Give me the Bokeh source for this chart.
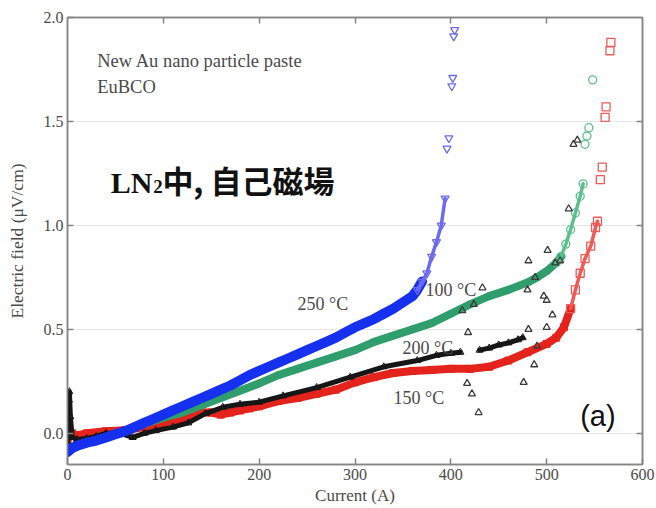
from bokeh.plotting import figure
from bokeh.models import LinearAxis, Range1d, Label, FixedTicker, PrintfTickFormatter
from bokeh.embed import file_html
from bokeh.resources import INLINE

# ---------------- data ----------------
x_ticks = [0, 100, 200, 300, 400, 500, 600]
y_ticks = [0.0, 0.5, 1.0, 1.5, 2.0]

# 250 C (blue, inverted triangles)
blue_I = [0, 5, 10, 20, 30, 40, 50, 60, 70, 80, 90, 100, 110, 120, 130, 140, 150, 160, 170, 180,
          190, 200, 210, 220, 230, 240, 250, 260, 270, 280, 290, 300, 310, 320, 330, 340, 350, 360,
          365, 370, 375, 380, 385, 390, 394, 396, 398, 401, 402, 403, 404]
blue_E = [-0.09, -0.07, -0.06, -0.045, -0.035, -0.02, -0.005, 0.01, 0.03, 0.05, 0.07, 0.09, 0.11,
          0.13, 0.15, 0.17, 0.19, 0.21, 0.23, 0.255, 0.28, 0.30, 0.32, 0.34, 0.36, 0.38, 0.40, 0.42,
          0.44, 0.46, 0.485, 0.51, 0.53, 0.55, 0.575, 0.60, 0.63, 0.66, 0.69, 0.73, 0.77, 0.85, 0.92,
          1.0, 1.13, 1.37, 1.42, 1.67, 1.71, 1.91, 1.94]

# 100 C (green, circles)
green_I = [0, 10, 20, 40, 60, 80, 100, 120, 140, 160, 180, 200, 220, 240, 260, 280, 300, 320, 340,
           360, 380, 400, 420, 440, 460, 480, 490, 500, 510, 515, 520, 525, 530, 535, 538, 540, 542,
           544, 548]
green_E = [-0.07, -0.06, -0.045, -0.02, 0.01, 0.045, 0.075, 0.10, 0.135, 0.17, 0.205, 0.24, 0.28,
           0.31, 0.34, 0.37, 0.40, 0.44, 0.47, 0.50, 0.53, 0.575, 0.62, 0.66, 0.69, 0.725, 0.75,
           0.78, 0.82, 0.85, 0.91, 0.98, 1.06, 1.14, 1.20, 1.39, 1.43, 1.47, 1.70]

# 150 C (red, squares)
red_I = [0, 5, 10, 20, 40, 60, 80, 100, 120, 140, 150, 160, 170, 180, 190, 200, 220, 240, 260, 280,
         300, 320, 340, 360, 380, 400, 420, 440, 460, 480, 500, 510, 518, 525, 530, 535, 540, 546,
         551, 553, 556, 558, 561, 562, 566, 567]
red_E = [-0.03, 0.0, -0.01, 0.0, 0.01, 0.015, 0.03, 0.05, 0.07, 0.10, 0.10, 0.09, 0.10, 0.11, 0.12,
         0.13, 0.155, 0.17, 0.19, 0.21, 0.245, 0.27, 0.29, 0.30, 0.305, 0.31, 0.31, 0.32, 0.35, 0.39,
         0.43, 0.46, 0.51, 0.60, 0.69, 0.77, 0.84, 0.90, 0.99, 1.02, 1.22, 1.28, 1.52, 1.57, 1.84, 1.88]

# 200 C (black, triangles) - main run
black_I = [0, 1, 1, 1.5, 2, 3, 5, 10, 20, 30, 40, 55, 68, 80, 92, 110, 126, 144, 162, 180, 200, 225,
           260, 295, 330, 365, 385, 400, 410]
black_E = [-0.04, 0.04, 0.10, 0.16, 0.20, 0.08, -0.02, -0.03, -0.025, -0.015, 0.0, 0.0, -0.02, 0.0,
           0.013, 0.03, 0.05, 0.095, 0.125, 0.14, 0.15, 0.18, 0.22, 0.27, 0.32, 0.35, 0.375, 0.385, 0.39]
# 200 C - second short run
black2_I = [430, 440, 450, 460, 470, 475]
black2_E = [0.40, 0.41, 0.425, 0.435, 0.45, 0.46]
# 200 C - scattered points
black3_I = [417, 422, 429, 412, 418, 424, 433, 480, 481, 487, 476, 481, 488, 490, 497, 500, 500, 501,
            506, 509, 514, 523, 528, 532]
black3_E = [0.24, 0.19, 0.10, 0.59, 0.485, 0.62, 0.70, 0.69, 0.83, 0.33, 0.245, 0.50, 0.75, 0.42,
            0.66, 0.64, 0.51, 0.88, 0.57, 0.82, 0.83, 1.08, 1.39, 1.41]

# ---------------- figure ----------------
SERIF = "Liberation Serif"
GRAY_TXT = "#4a4a4a"
AX_COL = "#858585"

p = figure(width=656, height=508, x_range=Range1d(0, 600), y_range=Range1d(-0.15, 2.0),
           output_backend="svg", toolbar_location=None,
           min_border_left=67, min_border_right=14, min_border_top=17, min_border_bottom=44)
p.background_fill_color = "white"
p.border_fill_color = "white"
p.outline_line_color = AX_COL
p.outline_line_width = 1.5
p.xgrid.visible = False
p.ygrid.ticker = FixedTicker(ticks=y_ticks[:-1])
p.ygrid.grid_line_color = "#e6e6e6"
p.ygrid.grid_line_width = 1


def style(ax, ticks, labels=True):
    ax.ticker = FixedTicker(ticks=ticks)
    ax.major_tick_in = 6
    ax.major_tick_out = 0
    ax.minor_tick_line_color = None
    ax.major_tick_line_color = AX_COL
    ax.major_tick_line_width = 1.5
    ax.axis_line_color = AX_COL
    ax.axis_line_width = 1.5
    if labels:
        ax.major_label_text_font = SERIF
        ax.major_label_text_font_size = "16px"
        ax.major_label_text_color = GRAY_TXT
        ax.major_label_standoff = 4
    else:
        ax.major_label_overrides = {t: "" for t in ticks}
        ax.major_label_standoff = 0


style(p.xaxis[0], x_ticks)
p.xaxis[0].axis_label = "Current (A)"
p.xaxis[0].axis_label_text_font = SERIF
p.xaxis[0].axis_label_text_font_style = "normal"
p.xaxis[0].axis_label_text_font_size = "17px"
p.xaxis[0].axis_label_text_color = GRAY_TXT
p.xaxis[0].axis_label_standoff = 3

style(p.yaxis[0], y_ticks)
p.yaxis[0].formatter = PrintfTickFormatter(format="%.1f")
p.yaxis[0].axis_label = "Electric field (\u03bcV/cm)"
p.yaxis[0].axis_label_text_font = SERIF
p.yaxis[0].axis_label_text_font_style = "normal"
p.yaxis[0].axis_label_text_font_size = "17.5px"
p.yaxis[0].axis_label_text_color = GRAY_TXT
p.yaxis[0].axis_label_standoff = 14

top_ax = LinearAxis()
style(top_ax, x_ticks[1:-1], labels=False)
p.add_layout(top_ax, "above")
right_ax = LinearAxis()
style(right_ax, y_ticks[:-1], labels=False)
p.add_layout(right_ax, "right")

# ---------------- series ----------------
BLUE, BLUE_L = "#1530ee", "#6a6af2"
GREEN, GREEN_L = "#2f9e6c", "#5cbf8c"
RED, RED_L = "#e4231c", "#ee5a55"
BLACK = "#161616"


def split(xs, ys, lo, hi):
    sx = [x for x, y in zip(xs, ys) if lo <= y <= hi]
    sy = [y for y in ys if lo <= y <= hi]
    return sx, sy


def series(xs, ys, band_top, chain_top, color, light, marker, band_w):
    bx, by = split(xs, ys, -1, band_top)
    p.line(bx, by, line_color=color, line_width=band_w, line_join="round", line_cap="round")
    p.scatter(bx, by, marker=marker, size=7, fill_alpha=0, line_color=color, line_width=1)
    cx, cy = split(xs, ys, band_top - 0.06, chain_top)
    p.line(cx, cy, line_color=light, line_width=3.5, line_join="round", line_cap="round")
    hx, hy = split(xs, ys, band_top - 0.06, 5)
    p.scatter(hx, hy, marker=marker, size=8, fill_alpha=0, line_color=light, line_width=1.3)


series(red_I, red_E, 0.62, 1.03, RED, RED_L, "square", 8)
series(green_I, green_E, 0.86, 1.21, GREEN, GREEN_L, "circle", 8)

p.line(black_I, black_E, line_color=BLACK, line_width=5, line_join="round", line_cap="round")
p.scatter(black_I, black_E, marker="triangle", size=7, fill_alpha=0, line_color=BLACK, line_width=1)
p.line(black2_I, black2_E, line_color=BLACK, line_width=5, line_join="round", line_cap="round")
p.scatter(black2_I, black2_E, marker="triangle", size=7, fill_alpha=0, line_color=BLACK, line_width=1)
p.scatter(black3_I, black3_E, marker="triangle", size=7, fill_alpha=0, line_color="#3a3a3a",
          line_width=1.3)

series(blue_I, blue_E, 0.74, 1.14, BLUE, BLUE_L, "inverted_triangle", 10)

# ---------------- annotations ----------------
def lab(x, y, text, size, font=SERIF, color=GRAY_TXT, style="normal", baseline="middle",
        align="left", angle=0):
    p.add_layout(Label(x=x, y=y, text=text, text_font=font, text_font_size=size,
                       text_color=color, text_font_style=style, text_baseline=baseline,
                       text_align=align, angle=angle))


lab(31, 1.79, "New Au nano particle paste", "18.5px")
lab(31, 1.665, "EuBCO", "18.5px")
lab(45, 1.208, "LN", "30px", color="#111111", style="bold", baseline="alphabetic")
lab(89.5, 1.185, "2", "19px", color="#111111", style="bold", baseline="alphabetic")
lab(99, 1.222, "\u4e2d, \u81ea\u5df1\u78c1\u5834", "31px", font="Noto Sans CJK JP",
    color="#111111", style="bold", baseline="alphabetic")

lab(240, 0.624, "250 \u00b0C", "18px")
lab(373.6, 0.687, "100 \u00b0C", "18px")
lab(349.6, 0.408, "200 \u00b0C", "18px")
lab(340.2, 0.172, "150 \u00b0C", "18px")
lab(535, 0.085, "(a)", "29px", font="Liberation Sans", color="#111111")

open("out.html", "w").write(file_html(p, INLINE))
